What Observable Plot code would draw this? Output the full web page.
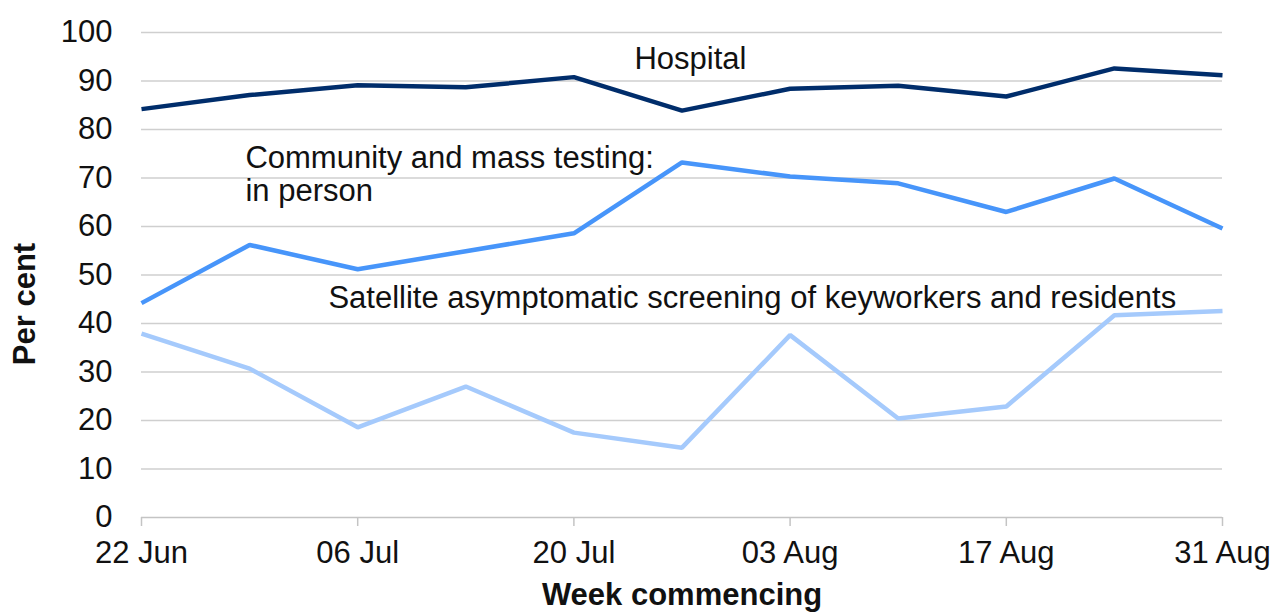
<!DOCTYPE html>
<html>
<head>
<meta charset="utf-8">
<script src="https://cdn.jsdelivr.net/npm/d3@7"></script>
<script src="https://cdn.jsdelivr.net/npm/@observablehq/plot@0.6"></script>
<style>
  html, body { margin: 0; padding: 0; background: #fff; }
  #chart { width: 1274px; height: 614px; overflow: hidden; }
  svg { font-family: "Liberation Sans", Arial, sans-serif; }
</style>
</head>
<body>
<div id="chart"></div>
<script>
const weeks = ["2020-06-22","2020-06-29","2020-07-06","2020-07-13","2020-07-20","2020-07-27","2020-08-03","2020-08-10","2020-08-17","2020-08-24","2020-08-31"];
const hospital = [84.2, 87.1, 89.1, 88.7, 90.8, 83.9, 88.4, 89.0, 86.8, 92.6, 91.2];
const community = [44.2, 56.2, 51.2, 54.9, 58.6, 73.2, 70.3, 68.9, 63.0, 69.9, 59.6];
const satellite = [37.9, 30.7, 18.6, 27.0, 17.5, 14.4, 37.6, 20.4, 22.9, 41.7, 42.6];
const yTicks = [0, 10, 20, 30, 40, 50, 60, 70, 80, 90, 100];
const xTicks = ["2020-06-22","2020-07-06","2020-07-20","2020-08-03","2020-08-17","2020-08-31"];
const seriesNames = ["Hospital", "Community and mass testing: in person", "Satellite asymptomatic screening of keyworkers and residents"];
const seriesColors = ["#002d6b", "#4795fa", "#a5cafc"];
const labelText = ["Hospital", "Community and mass testing:\nin person", "Satellite asymptomatic screening of keyworkers and residents"];
const labelDates = ["2020-07-23T22:00Z", "2020-06-28T17:30Z", "2020-07-04T02:30Z"];
const labelValues = [94.6, 70.8, 45.3];

const parse = s => new Date(s.length === 10 ? s + "T00:00Z" : s);
const rows = [];
[hospital, community, satellite].forEach((vals, i) => {
  vals.forEach((v, j) => rows.push({week: parse(weeks[j]), value: v, series: seriesNames[i]}));
});
const labels = labelText.map((t, i) => ({text: t, date: parse(labelDates[i]), value: labelValues[i]}));
const fmt = d3.utcFormat("%d %b");

const chart = Plot.plot({
  width: 1274,
  height: 614,
  marginLeft: 141,
  marginRight: 52,
  marginTop: 32,
  marginBottom: 97,
  style: {fontFamily: "'Liberation Sans', Arial, sans-serif", fontSize: "31px", color: "#111", background: "#fff"},
  x: {type: "utc", domain: [parse(weeks[0]), parse(weeks[weeks.length - 1])], ticks: xTicks.map(parse), tickFormat: fmt, label: null},
  y: {domain: [0, 100], ticks: yTicks, label: null},
  color: {domain: seriesNames, range: seriesColors},
  marks: [
    Plot.ruleY(yTicks.filter(t => t > 0), {stroke: "#cfcfcf", strokeWidth: 1.5}),
    Plot.ruleY([0], {stroke: "#c4c4c4", strokeWidth: 1.5}),
    Plot.axisX({ticks: xTicks.map(parse), tickFormat: fmt, tickSize: 9, stroke: "#c4c4c4", strokeWidth: 1.5, tickPadding: 14, fontSize: 31, fill: "#111", label: null}),
    Plot.axisY({ticks: yTicks, tickSize: 0, tickPadding: 29, fontSize: 31, fill: "#111", label: null}),
    Plot.line(rows, {x: "week", y: "value", z: "series", stroke: "series", strokeWidth: 4.5, strokeLinejoin: "miter", strokeLinecap: "butt"}),
    Plot.text(labels, {x: "date", y: "value", text: "text", textAnchor: "start", lineAnchor: "middle", lineHeight: 1.05, fontSize: 31, fill: "#111"}),
    Plot.text(["Per cent"], {frameAnchor: "left", textAnchor: "middle", dx: -116, dy: 29, rotate: -90, fontSize: 31, fontWeight: "bold", fill: "#111"}),
    Plot.text(["Week commencing"], {frameAnchor: "bottom", dy: 87, fontSize: 31, fontWeight: "bold", fill: "#111"})
  ]
});
document.getElementById("chart").appendChild(chart);
</script>
</body>
</html>
